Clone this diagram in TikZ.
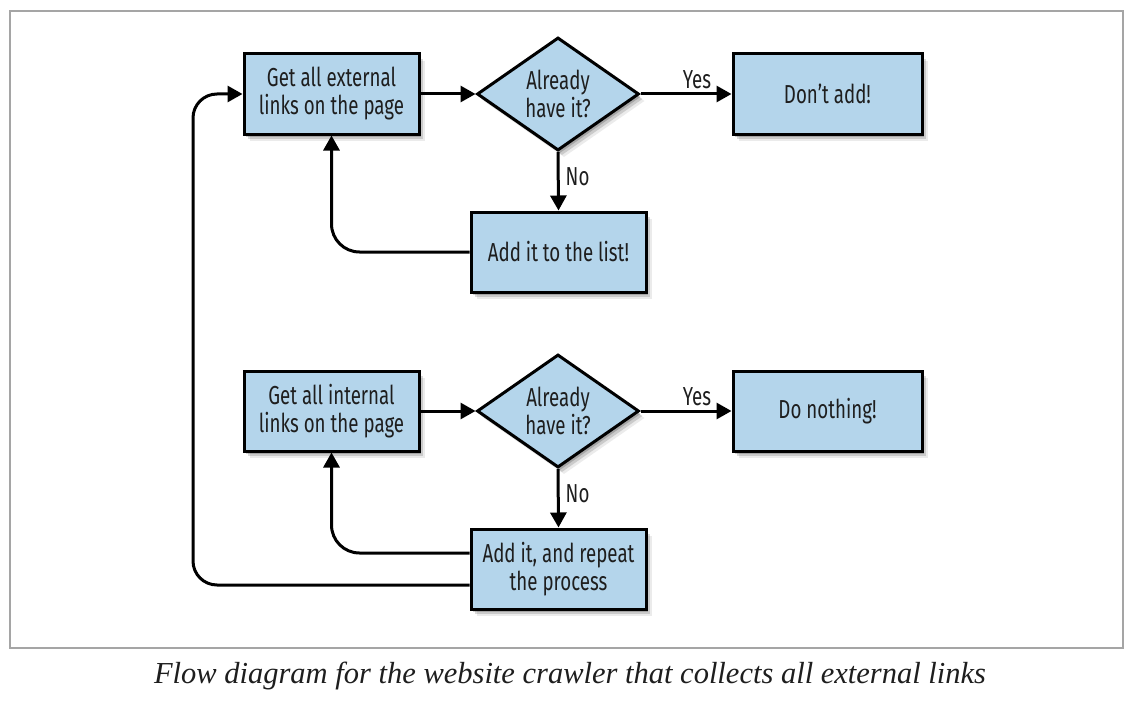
\documentclass[tikz,border=0pt]{standalone}
\usepackage{fontspec}
\setsansfont{Fira Sans}[FakeStretch=0.72]
\setmainfont{Liberation Serif}
\usetikzlibrary{shapes.geometric,arrows.meta,shadows}
\definecolor{boxblue}{RGB}{180,213,235}
\definecolor{framegray}{RGB}{165,165,165}
\definecolor{inktext}{RGB}{30,30,30}
\tikzset{
  softshadow/.style={
    drop shadow={shadow xshift=2pt,shadow yshift=-3pt,opacity=0.18,fill=black},
    drop shadow={shadow xshift=4pt,shadow yshift=-5pt,opacity=0.14,fill=black},
    drop shadow={shadow xshift=6pt,shadow yshift=-7pt,opacity=0.08,fill=black}},
  boxfont/.style={font=\sffamily\fontsize{26}{28}\selectfont,text=inktext},
  stepbox/.style={draw=black,line width=3pt,fill=boxblue,softshadow,
    minimum height=80pt,align=center,boxfont,inner sep=0pt},
  decision/.style={diamond,draw=black,line width=3pt,fill=boxblue,softshadow,
    minimum width=162pt,minimum height=112pt,align=center,inner sep=0pt,boxfont},
  arr/.style={line width=3pt,-{Triangle[length=15pt,width=16pt]}},
  lbl/.style={boxfont,inner sep=0pt}
}
\begin{document}
\begin{tikzpicture}[x=1pt,y=-1pt]
\useasboundingbox (0,0) rectangle (1134,706);
\node[draw=framegray,line width=1.4pt,minimum width=1113pt,minimum height=637pt,inner sep=0pt] (frame) at (566.5,329.5) {};
% top row
\node[stepbox,minimum width=175pt] (b1) at (331.5,94) {Get all external\\links on the page};
\node[decision] (d1) at (558,94) {Already\\have it?};
\node[stepbox,minimum width=189pt] (n1) at (827.5,94) {Don’t add!};
\node[stepbox,minimum width=175pt] (a1) at (558.5,252) {Add it to the list!};
% bottom row
\node[stepbox,minimum width=175pt] (b2) at (331.5,411) {Get all internal\\links on the page};
\node[decision] (d2) at (558,411) {Already\\have it?};
\node[stepbox,minimum width=189pt] (n2) at (827.5,411) {Do nothing!};
\node[stepbox,minimum width=175pt] (a2) at (558.5,569) {Add it, and repeat\\the process};
\coordinate (loop) at (193,94);
% connectors top
\draw[arr] (b1) -- (d1);
\draw[arr] (d1.east) -- node[lbl,above=4pt,pos=0.62] (y1) {Yes} (n1.west);
\draw[arr] (d1.south) -- node[lbl,right=6pt,pos=0.42] (no1) {No} (a1.north);
\draw[arr,rounded corners=28pt] (a1.west) -| (b1.south);
% connectors bottom
\draw[arr] (b2) -- (d2);
\draw[arr] (d2.east) -- node[lbl,above=4pt,pos=0.62] (y2) {Yes} (n2.west);
\draw[arr] (d2.south) -- node[lbl,right=6pt,pos=0.42] (no2) {No} (a2.north);
\draw[arr,rounded corners=28pt] ([yshift=16pt]a2.west) -| (b2.south);
\draw[arr,rounded corners=24pt] ([yshift=-16pt]a2.west) -| (loop) -- (b1.west);
% caption
\node[font=\rmfamily\itshape\fontsize{30.5}{34}\selectfont,text=inktext,inner sep=0pt] (cap) at (570,676) {Flow diagram for the website crawler that collects all external links};
\end{tikzpicture}
\end{document}
